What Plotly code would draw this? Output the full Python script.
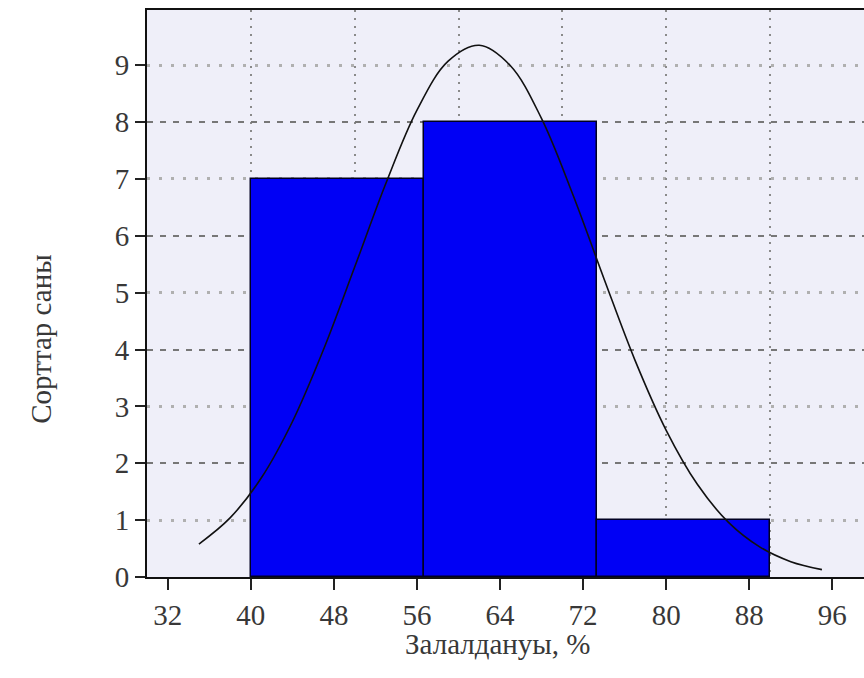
import plotly.graph_objects as go

# ---- data ----
bin_edges = [40.0, 56.67, 73.33, 90.0]
counts = [7, 8, 1]
x_tick_vals = [32, 40, 48, 56, 64, 72, 80, 88, 96]
y_tick_vals = [0, 1, 2, 3, 4, 5, 6, 7, 8, 9]
curve_x = [35, 38, 41, 44, 47, 50, 53, 56, 59, 62, 65, 68, 71, 74, 77, 80, 83, 86, 89, 92, 95]
curve_y = [0.58, 1.04, 1.74, 2.73, 4.00, 5.45, 6.92, 8.21, 9.07, 9.35, 8.99, 8.06, 6.73,
           5.25, 3.81, 2.58, 1.63, 0.96, 0.53, 0.27, 0.13]
x_title = "Залалдануы, %"
y_title = "Сорттар саны"

x_range = [30, 99.05]
y_range = [0, 9.97]

centers = [(a + b) / 2 for a, b in zip(bin_edges[:-1], bin_edges[1:])]
widths = [b - a for a, b in zip(bin_edges[:-1], bin_edges[1:])]

font = dict(family="Liberation Serif, Times New Roman, serif", size=29, color="#383838")

fig = go.Figure()
# invisible trace to activate the grid overlay axes
fig.add_trace(go.Scatter(x=[x_range[0]], y=[y_range[0]], xaxis="x2", yaxis="y2",
                         mode="markers", marker=dict(opacity=0), showlegend=False,
                         hoverinfo="skip"))
fig.add_trace(go.Bar(x=centers, y=counts, width=widths,
                     marker=dict(color="#0000F5", line=dict(color="#000022", width=1.5)),
                     showlegend=False))
fig.add_trace(go.Scatter(x=curve_x, y=curve_y, mode="lines",
                         line=dict(color="#111111", width=1.6, shape="spline"),
                         showlegend=False))

fig.update_layout(
    width=864, height=678,
    margin=dict(l=147, r=0, t=10, b=101),
    paper_bgcolor="white",
    plot_bgcolor="#EFEFF9",
    font=font,
    bargap=0,
    xaxis=dict(range=x_range, tickvals=x_tick_vals, showgrid=False, zeroline=False,
               showline=True, linecolor="#111111", linewidth=2, mirror=True,
               ticks="outside", ticklen=11, tickwidth=2, tickcolor="#222222",
               tickfont=font),
    yaxis=dict(range=y_range, tickvals=y_tick_vals, showgrid=False, zeroline=False,
               showline=True, linecolor="#111111", linewidth=2,
               ticks="outside", ticklen=10, tickwidth=2, tickcolor="#222222",
               tickfont=font),
    xaxis2=dict(range=x_range, overlaying="x", tick0=0, dtick=10, showgrid=True,
                gridcolor="#8A8A8A", gridwidth=1.5, griddash="2px,6px",
                showticklabels=False, ticks="", zeroline=False, showline=False),
    yaxis2=dict(range=y_range, overlaying="y", tick0=0, dtick=2, showgrid=True,
                gridcolor="#777777", gridwidth=1.5, griddash="6px,7px",
                minor=dict(dtick=1, tick0=0, showgrid=True, gridcolor="#B0B0B0",
                           gridwidth=2.5, griddash="3px,9px"),
                showticklabels=False, ticks="", zeroline=False, showline=False),
    annotations=[
        dict(text=x_title, xref="paper", yref="paper", x=0.49, y=-0.1185,
             xanchor="center", yanchor="middle", showarrow=False, font=font),
        dict(text=y_title, xref="paper", yref="paper", x=-0.148, y=0.42,
             xanchor="center", yanchor="middle", showarrow=False, font=font,
             textangle=-90),
    ],
)

fig.write_html("out.html")
